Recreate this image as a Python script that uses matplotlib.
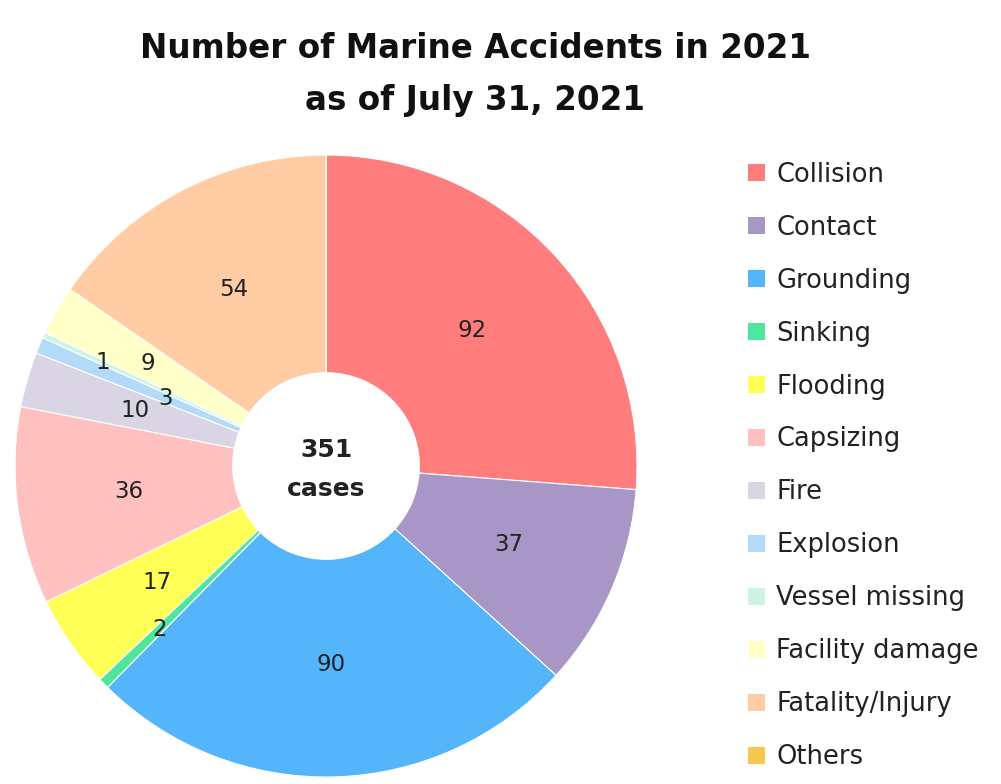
import numpy as np
import matplotlib
matplotlib.use("Agg")
import matplotlib.pyplot as plt
from matplotlib.patches import Patch

categorias = ["Collision", "Contact", "Grounding", "Sinking", "Flooding", "Capsizing",
              "Fire", "Explosion", "Vessel missing", "Facility damage",
              "Fatality/Injury", "Others"]
casos = [92, 37, 90, 2, 17, 36, 10, 3, 1, 9, 54, 0]
cores = ["#FF7D7D", "#A896C6", "#55B5FA", "#4EE69C", "#FFFF55", "#FFC0C0",
         "#D9D5E5", "#B3DAF8", "#CBF5E2", "#FFFFC8", "#FFCCA3", "#F5C850"]
# distancia radial de cada rotulo (fracao do raio)
dist_rotulo = [0.64, 0.64, 0.64, 0.75, 0.66, 0.64, 0.64, 0.56, 0.79, 0.66, 0.64, 0.64]

plt.rcParams["font.family"] = ["DejaVu Sans"]

fig = plt.figure(figsize=(10.01, 7.84), dpi=100)
ax = fig.add_axes([0.015, 0.0089, 0.6214, 0.7934])

wedges, _ = ax.pie(casos, colors=cores, startangle=90, counterclock=False,
                   radius=1.0, wedgeprops=dict(width=0.70, edgecolor="white", linewidth=0.8))

for w, v, d in zip(wedges, casos, dist_rotulo):
    if v == 0:
        continue
    ang = np.deg2rad((w.theta1 + w.theta2) / 2)
    ax.text(d * np.cos(ang), d * np.sin(ang), str(v), ha="center", va="center",
            fontsize=16.5, color="#222222")

total = sum(casos)
ax.text(0, 0.05, str(total), ha="center", va="center", fontsize=18, fontweight="bold", color="#222222")
ax.text(0, -0.075, "cases", ha="center", va="center", fontsize=18, fontweight="bold", color="#222222")
ax.set_xlim(-1, 1)
ax.set_ylim(-1, 1)
ax.set_aspect("auto")
ax.axis("off")

fig.text(0.475, 0.938, "Number of Marine Accidents in 2021", ha="center", va="center",
         fontsize=23.5, fontweight="bold", color="#111111")
fig.text(0.475, 0.872, "as of July 31, 2021", ha="center", va="center",
         fontsize=23.5, fontweight="bold", color="#111111")

handles = [Patch(facecolor=c, edgecolor="none") for c in cores]
fig.legend(handles, categorias, loc="upper left", bbox_to_anchor=(0.737, 0.807),
           frameon=False, fontsize=18.5, handlelength=0.65, handleheight=0.65,
           handletextpad=0.45, labelspacing=1.05, borderaxespad=0, labelcolor="#222222")

plt.savefig("out.png", dpi=100)
